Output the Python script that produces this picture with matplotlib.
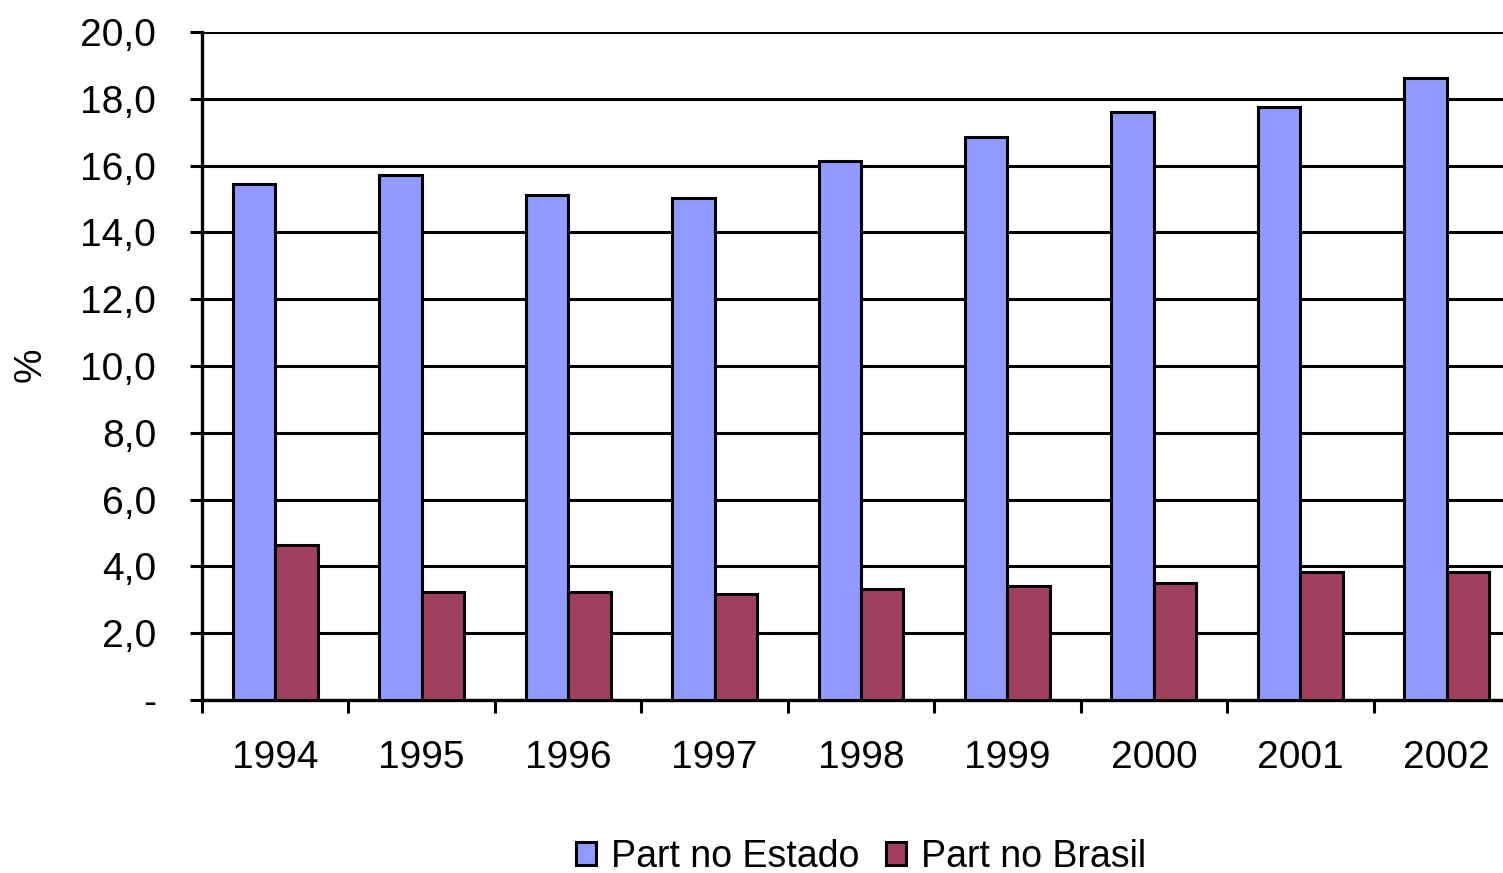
import matplotlib
matplotlib.use("Agg")
import matplotlib.pyplot as plt
import numpy as np

years = ["1994", "1995", "1996", "1997", "1998", "1999", "2000", "2001", "2002"]
part_estado = [15.45, 15.72, 15.12, 15.03, 16.14, 16.86, 17.60, 17.75, 18.62]
part_brasil = [4.64, 3.23, 3.23, 3.17, 3.32, 3.41, 3.50, 3.83, 3.83]
yticks = [0, 2, 4, 6, 8, 10, 12, 14, 16, 18, 20]
ytick_labels = ["-", "2,0", "4,0", "6,0", "8,0", "10,0", "12,0", "14,0", "16,0", "18,0", "20,0"]
series_names = ["Part no Estado", "Part no Brasil"]

plt.rcParams['font.family'] = ['Liberation Sans', 'DejaVu Sans']

fig = plt.figure(figsize=(15.03, 8.73), dpi=100)
W, H = 1503, 873
left, right, bottom, top = 202, 1520, 700, 32
ax = fig.add_axes([left / W, 1 - bottom / H, (right - left) / W, (bottom - top) / H])

x = np.arange(len(years))
w = 0.29
ax.bar(x - w / 2, part_estado, w, color="#9299FF", edgecolor="black", linewidth=2.2, label=series_names[0], zorder=3)
ax.bar(x + w / 2, part_brasil, w, color="#A0405F", edgecolor="black", linewidth=2.2, label=series_names[1], zorder=3)

ax.set_xlim(-0.5, len(years) - 0.5)
ax.set_ylim(0, 20)
ax.set_yticks(yticks)
ax.set_yticklabels(ytick_labels, fontsize=28)
ax.yaxis.grid(True, color="black", linewidth=2.2)
ax.set_axisbelow(True)

ax.set_xticks(np.arange(len(years) + 1) - 0.5)
ax.set_xticklabels([])
ax.set_xticks(x, minor=True)
ax.set_xticklabels(years, minor=True, fontsize=28)
ax.tick_params(axis="x", which="major", direction="out", length=9, width=2.2, color="black")
ax.tick_params(axis="x", which="minor", length=0, pad=29)
ax.tick_params(axis="y", direction="out", length=9, width=2.2, pad=24)

for s in ["top", "right"]:
    ax.spines[s].set_visible(False)
for s in ["left", "bottom"]:
    ax.spines[s].set_color("black")
    ax.spines[s].set_linewidth(2.4)

fig.text(31 / W, 1 - 365 / H, "%", rotation=90, fontsize=28, ha="center", va="center")

leg = ax.legend(loc="center", bbox_to_anchor=(0.5, -0.235), ncol=2, frameon=False, fontsize=27,
                handlelength=0.55, handleheight=0.55, handletextpad=0.4, columnspacing=0.7)
for h in leg.legend_handles:
    h.set_linewidth(2.2)

fig.savefig("out.png", dpi=100, facecolor="white")
